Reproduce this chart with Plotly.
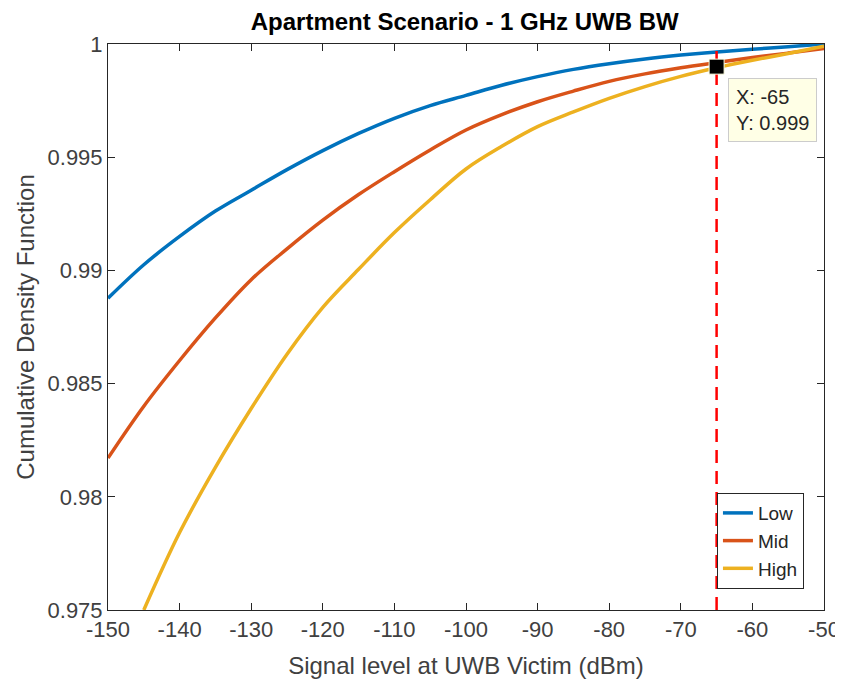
import plotly.graph_objs as go

# Signal level (dBm) grid
level_dbm = [-150, -145, -140, -135, -130, -125, -120, -115, -110, -105, -100,
             -95, -90, -85, -80, -75, -70, -65, -60, -55, -50]

cdf_low = [0.98877, 0.99025, 0.9915, 0.99262, 0.99354, 0.99445, 0.99529, 0.99605,
           0.99672, 0.99728, 0.99773, 0.99818, 0.99856, 0.99888, 0.99913,
           0.99934, 0.99951, 0.99965, 0.99977, 0.99988, 1.0]
cdf_mid = [0.98171, 0.9840, 0.98602, 0.9879, 0.98959, 0.99095, 0.99222, 0.99335,
           0.99436, 0.99532, 0.9962, 0.99688, 0.99745, 0.99792, 0.99835,
           0.99868, 0.99895, 0.99918, 0.9994, 0.9996, 0.9998]
# High series starts at -145 dBm (below the y range before that)
level_high = level_dbm[1:]
cdf_high = [0.975, 0.97842, 0.9813, 0.9839, 0.9863, 0.98837, 0.99005, 0.99167,
            0.99312, 0.99448, 0.99548, 0.99635, 0.997, 0.9976, 0.99812,
            0.99857, 0.99895, 0.99928, 0.99958, 0.9999]

# Data tip
tip_x = -65
tip_y = 0.999

y_ticks = [0.975, 0.98, 0.985, 0.99, 0.995, 1]
y_ticktext = ["0.975", "0.98", "0.985", "0.99", "0.995", "1"]
x_ticks = list(range(-150, -49, 10))
x_ticktext = [str(v) for v in x_ticks]

FONT = "Liberation Sans, Arial, Helvetica, sans-serif"
GREY = "#404040"

fig = go.Figure()
fig.add_trace(go.Scatter(x=level_dbm, y=cdf_low, name="Low", mode="lines",
                         line=dict(color="#0072BD", width=3.5, shape="spline")))
fig.add_trace(go.Scatter(x=level_dbm, y=cdf_mid, name="Mid", mode="lines",
                         line=dict(color="#D95319", width=3.5, shape="spline")))
fig.add_trace(go.Scatter(x=level_high, y=cdf_high, name="High", mode="lines",
                         line=dict(color="#EDB120", width=3.5, shape="spline")))

# Red dashed threshold line
fig.add_trace(go.Scatter(x=[tip_x, tip_x], y=[0.975, 1], mode="lines",
                         line=dict(color="#FF0000", width=2.5, dash="13px,8px"),
                         showlegend=False, hoverinfo="skip"))

# Data tip marker
fig.add_trace(go.Scatter(x=[tip_x], y=[tip_y], mode="markers",
                         marker=dict(symbol="square", size=15, color="black",
                                     line=dict(color="#ffffe0", width=1)),
                         showlegend=False))

fig.add_annotation(x=tip_x + 1.55, y=tip_y - 0.0005, xref="x", yref="y",
                   xanchor="left", yanchor="top", showarrow=False, align="left",
                   text=f"X: {tip_x}<br>Y: {tip_y}",
                   font=dict(family=FONT, size=20, color="#262626"),
                   bgcolor="#ffffe6", bordercolor="#cccccc", borderwidth=1,
                   borderpad=7)

fig.update_xaxes(range=[-150, -50], tickvals=x_ticks, ticktext=x_ticktext,
                 showline=True, mirror="ticks", automargin=False,
                 linecolor="#262626", linewidth=1, ticks="inside", ticklen=7,
                 tickcolor="#262626", showgrid=False, zeroline=False,
                 tickfont=dict(family=FONT, size=22, color=GREY),
                 title=dict(text="Signal level at UWB Victim (dBm)", standoff=16,
                            font=dict(family=FONT, size=24, color=GREY)))
fig.update_yaxes(range=[0.975, 1], tickvals=y_ticks, ticktext=y_ticktext,
                 showline=True, mirror="ticks", automargin=False,
                 linecolor="#262626", linewidth=1,
                 ticks="inside", ticklen=7, tickcolor="#262626", showgrid=False,
                 zeroline=False, tickfont=dict(family=FONT, size=22, color=GREY),
                 title=dict(text="Cumulative Density Function", standoff=6,
                            font=dict(family=FONT, size=24, color=GREY)))

# page body keeps an 8px margin, so the figure is 8px smaller each way
fig.update_layout(
    width=835, height=671,
    margin=dict(l=100, r=19, t=36, b=69),
    plot_bgcolor="white", paper_bgcolor="white",
    title=dict(text="<b>Apartment Scenario - 1 GHz UWB BW</b>", x=0.547, xanchor="center",
               y=1 - 14 / 671, yanchor="middle",
               font=dict(family=FONT, size=24, color="black")),
    legend=dict(x=0.972, y=0.037, xanchor="right", yanchor="bottom",
                bgcolor="white", bordercolor="#262626", borderwidth=1,
                font=dict(family=FONT, size=19, color="#262626")),
    showlegend=True,
)

fig.write_html("out.html")
